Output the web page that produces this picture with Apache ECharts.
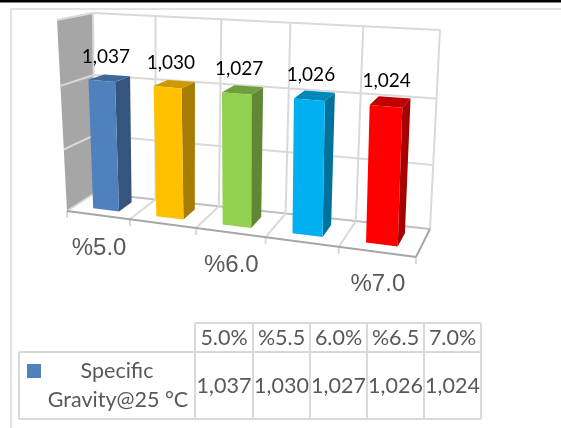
<!DOCTYPE html>
<html>
<head>
<meta charset="utf-8">
<style>html,body{margin:0;padding:0;background:#fff}#chart{width:561px;height:428px}</style>
<script src="https://cdn.jsdelivr.net/npm/echarts@6/dist/echarts.min.js"></script>
</head>
<body>
<div id="chart"></div>
<script>
// Specific gravity at 25 °C by concentration, as a 3D column chart with a data table.
const categories = ['%5.0', '%5.5', '%6.0', '%6.5', '%7.0'];
const tableHeaders = ['5.0%', '%5.5', '6.0%', '%6.5', '7.0%'];
const gravityValues = [1037, 1030, 1027, 1026, 1024];
const barColors = [
  ['#4F81BD', '#35557F', '#40699B'],
  ['#FFC000', '#A67D00', '#CC9A00'],
  ['#92D050', '#5F8734', '#6F9E3D'],
  ['#00B0F0', '#00729C', '#0088BA'],
  ['#FF0000', '#A60000', '#C00000']
];
const seriesName = ['Specific', 'Gravity@25 °C'];
const axisMin = 0, axisMax = 1500, axisStep = 500;
const labelledCategories = [0, 2, 4];

const fmt = v => String(v).replace(/\B(?=(\d{3})+$)/g, ',');

// The eight corners of the plot box on the page.
const box = {
  floorFrontLeft: [67, 211], floorFrontRight: [416, 257],
  floorBackLeft: [95, 193], floorBackRight: [430, 229],
  topFrontLeft: [57, 20], topFrontRight: [423, 46],
  topBackLeft: [93, 13], topBackRight: [440, 30]
};
const acrossFalloff = -0.12, heightFalloff = -0.05;

const lerp = (a, b, t) => [a[0] + (b[0] - a[0]) * t, a[1] + (b[1] - a[1]) * t];
const foreshorten = (t, k) => t * (1 + k) / (1 + k * t);

// Scene point: across 0..1, height 0..1, depth 0 (front)..1 (back).
function project(across, height, depth) {
  const u = foreshorten(across, acrossFalloff), h = foreshorten(height, heightFalloff);
  const floor = lerp(lerp(box.floorFrontLeft, box.floorFrontRight, u), lerp(box.floorBackLeft, box.floorBackRight, u), depth);
  const top = lerp(lerp(box.topFrontLeft, box.topFrontRight, u), lerp(box.topBackLeft, box.topBackRight, u), depth);
  return lerp(floor, top, h);
}

// Turns axis data into scene coordinates through the chart's own scales.
function sceneFromAxes(api) {
  const origin = api.coord([0, axisMin]);
  const top = api.coord([0, axisMax]);
  const band = api.size([1, 0])[0];
  return (cat, value, offset, depth) => {
    const c = api.coord([cat, value]);
    return project(((c[0] - origin[0]) / band + 0.5 + offset) / categories.length,
                   (origin[1] - c[1]) / (origin[1] - top[1]), depth);
  };
}

const poly = (points, fill, z2) => ({ type: 'polygon', z2: z2 || 0, shape: { points }, style: { fill, stroke: null } });
const seg = (a, b, stroke, lineWidth, z2) => ({
  type: 'line', z2: z2 || 0, shape: { x1: a[0], y1: a[1], x2: b[0], y2: b[1] },
  style: { stroke, lineWidth: lineWidth || 2 }
});

function renderFrame(params, api) {
  const at = sceneFromAxes(api);
  const grid = '#D9D9D9', edge = '#A6A6A6';
  const n = categories.length, kids = [];
  // Boundary k sits half a band before category k; the last one half a band after category n-1.
  const wallAt = (k, v, d) => k < n ? at(k, v, -0.5, d) : at(n - 1, v, 0.5, d);
  // side wall
  kids.push(poly([wallAt(0, axisMin, 0), wallAt(0, axisMin, 1), wallAt(0, axisMax, 1), wallAt(0, axisMax, 0)], '#A6A6A6'));
  for (let v = axisMin; v <= axisMax; v += axisStep) {
    // value gridlines along the back and side walls
    kids.push(seg(wallAt(0, v, 1), wallAt(n, v, 1), v === axisMin ? '#BFBFBF' : grid));
    if (v > axisMin) kids.push(seg(wallAt(0, v, 0), wallAt(0, v, 1), grid));
  }
  for (let k = 0; k <= n; k++) {
    kids.push(seg(wallAt(k, axisMin, 1), wallAt(k, axisMax, 1), grid));
    if (k > 0) kids.push(seg(wallAt(k, axisMin, 0), wallAt(k, axisMin, 1), k === n ? edge : grid));
    // tick under the front edge of the floor
    const f = wallAt(k, axisMin, 0);
    kids.push(seg(f, [f[0], f[1] + 7], grid));
  }
  kids.push(seg(wallAt(0, axisMin, 0), wallAt(0, axisMin, 1), grid));
  kids.push(seg(wallAt(0, axisMin, 0), wallAt(n, axisMin, 0), edge));
  // category labels below the floor
  labelledCategories.forEach(c => {
    const f = at(c, axisMin, 0, 0);
    kids.push({
      type: 'text', x: f[0] + 1, y: f[1] + 33,
      style: { text: categories[c], fill: '#595959', font: '24px "Liberation Sans"', align: 'center', verticalAlign: 'middle' }
    });
  });
  return { type: 'group', children: kids };
}

function renderBar(params, api) {
  const at = sceneFromAxes(api);
  const i = api.value(0), v = api.value(1);
  const left = -0.2, right = 0.215, front = 0.28, back = 0.76;
  const fl0 = at(i, axisMin, left, front), fr0 = at(i, axisMin, right, front);
  const br0 = at(i, axisMin, right, back);
  const fl = at(i, v, left, front), fr = at(i, v, right, front);
  const br = at(i, v, right, back), bl = at(i, v, left, back);
  const colors = barColors[i];
  const mid = at(i, v, 0, (front + back) / 2);
  return {
    type: 'group',
    children: [
      poly([fr0, br0, br, fr], colors[1], 1),
      poly([fl, fr, br, bl], colors[2], 1),
      poly([fl0, fr0, fr, fl], colors[0], 2),
      {
        type: 'text', z2: 3, x: mid[0] - 3, y: mid[1] - 21,
        style: { text: fmt(v), fill: '#000000', font: '19px Lato', align: 'center', verticalAlign: 'middle' }
      }
    ]
  };
}

// Data table drawn below the plot.
const colEdges = [195, 253, 310, 367, 424, 481];
const rowEdges = [323, 352, 419];
const tableLeft = 19;
const tableGraphics = [];
const tableLine = (x1, y1, x2, y2) => tableGraphics.push({
  type: 'line', shape: { x1, y1, x2, y2 }, style: { stroke: '#D9D9D9', lineWidth: 2 }
});
const tableText = (x, y, text) => tableGraphics.push({
  type: 'text', x, y,
  style: { text, fill: '#595959', font: '21.5px Lato', align: 'center', verticalAlign: 'middle' }
});
tableLine(colEdges[0], rowEdges[0], colEdges[5], rowEdges[0]);
tableLine(tableLeft, rowEdges[1], colEdges[5], rowEdges[1]);
tableLine(tableLeft, rowEdges[2], colEdges[5], rowEdges[2]);
tableLine(tableLeft, rowEdges[1], tableLeft, rowEdges[2]);
colEdges.forEach(x => tableLine(x, rowEdges[0], x, rowEdges[2]));
tableHeaders.forEach((h, i) => {
  const cx = (colEdges[i] + colEdges[i + 1]) / 2;
  tableText(cx, 338, h);
  tableText(cx, 386, fmt(gravityValues[i]));
});
tableText(117, 371, seriesName[0]);
tableText(118, 400, seriesName[1]);
tableGraphics.push({ type: 'rect', shape: { x: 27, y: 364, width: 14, height: 14 }, style: { fill: '#4F81BD' } });

// Page frame around the chart object.
tableGraphics.push({ type: 'rect', shape: { x: 0, y: 0, width: 561, height: 2.5 }, style: { fill: '#000000' } });
tableGraphics.push({ type: 'line', shape: { x1: 10, y1: 9, x2: 561, y2: 9 }, style: { stroke: '#E2E2E2', lineWidth: 2 } });
tableGraphics.push({ type: 'line', shape: { x1: 11, y1: 9, x2: 11, y2: 428 }, style: { stroke: '#E2E2E2', lineWidth: 2 } });

const chart = echarts.init(document.getElementById('chart'), null, { renderer: 'canvas' });
chart.setOption({
  animation: false,
  backgroundColor: '#ffffff',
  grid: { left: 40, right: 40, top: 40, bottom: 120 },
  xAxis: { type: 'category', data: categories, show: false },
  yAxis: { type: 'value', min: axisMin, max: axisMax, interval: axisStep, show: false },
  graphic: tableGraphics,
  series: [
    { type: 'custom', clip: false, z: 1, silent: true, renderItem: renderFrame, data: [[0, axisMin]], encode: { x: 0, y: 1 } },
    { type: 'custom', clip: false, z: 2, silent: true, renderItem: renderBar,
      data: gravityValues.map((v, i) => [i, v]), encode: { x: 0, y: 1 } }
  ]
});
</script>
</body>
</html>
